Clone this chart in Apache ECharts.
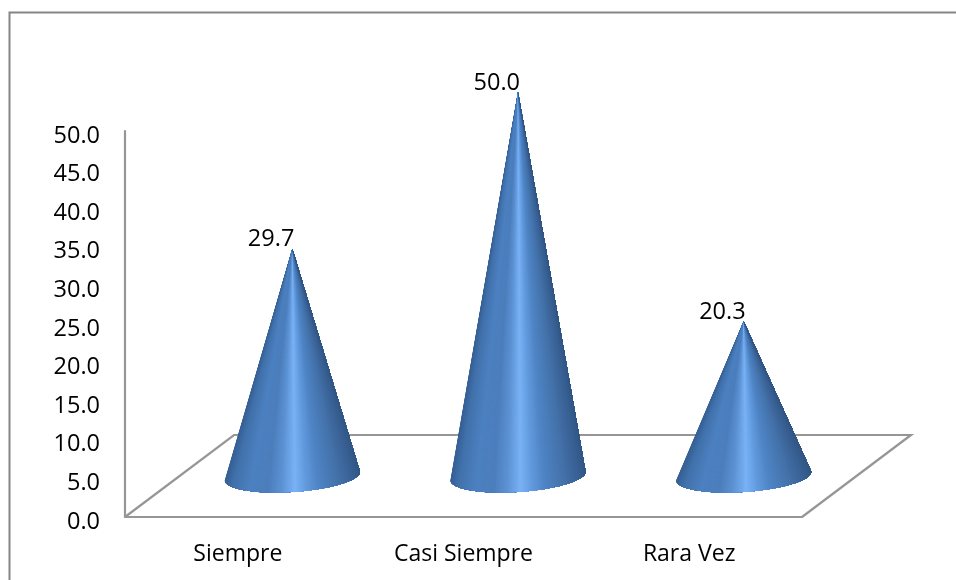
<!DOCTYPE html>
<html>
<head>
<meta charset="utf-8">
<style>html,body{margin:0;padding:0;background:#fff}#chart{width:956px;height:580px}</style>
<script src="https://cdn.jsdelivr.net/npm/echarts@6/dist/echarts.min.js"></script>
</head>
<body>
<div id="chart"></div>
<script>
const categories = ['Siempre', 'Casi Siempre', 'Rara Vez'];
const values = [29.7, 50.0, 20.3];
const yTicks = { min: 0, max: 50, interval: 5 };

const FONT = '"Open Sans", sans-serif';
const FRAME_GREY = '#858585';
const AXIS_GREY = '#969696';
// Oblique depth of the floor and where the cones stand on it
const DEPTH_X = 109, DEPTH_Y = 82;
const CONE_DX = 54.5, BASE_DY = 41, APEX_DY = 39;
const BASE_RX = 67.7, BASE_RY = 15.9, BASE_TILT = -0.0666;
const SLICES = 160;
// Surface shading from the left edge of a cone to its right edge
const SHADE = [
  [0.00, [54, 96, 148]], [0.06, [66, 114, 172]], [0.18, [76, 128, 192]],
  [0.32, [76, 126, 188]], [0.42, [92, 146, 212]], [0.52, [122, 178, 246]],
  [0.60, [98, 154, 222]], [0.70, [78, 132, 196]], [0.84, [68, 114, 170]],
  [0.94, [58, 98, 150]], [1.00, [50, 88, 134]]
];

function shadeAt(u) {
  for (let i = 1; i < SHADE.length; i++) {
    if (u <= SHADE[i][0]) {
      const a = SHADE[i - 1], b = SHADE[i];
      const k = (u - a[0]) / (b[0] - a[0]);
      const c = a[1].map((v, j) => Math.round(v + (b[1][j] - v) * k));
      return 'rgb(' + c.join(',') + ')';
    }
  }
  return 'rgb(' + SHADE[SHADE.length - 1][1].join(',') + ')';
}

function renderFloor(params, api) {
  const s = params.coordSys;
  const y0 = s.y + s.height;
  return {
    type: 'polyline',
    shape: {
      points: [
        [s.x, y0],
        [s.x + DEPTH_X, y0 - DEPTH_Y],
        [s.x + s.width + DEPTH_X, y0 - DEPTH_Y],
        [s.x + s.width, y0]
      ]
    },
    style: { stroke: AXIS_GREY, lineWidth: 2.2, fill: null }
  };
}

function renderCone(params, api) {
  const foot = api.coord([api.value(0), 0]);
  const top = api.coord([api.value(0), api.value(1)]);
  const cx = foot[0] + CONE_DX, cy = foot[1] - BASE_DY;
  const apex = [top[0] + CONE_DX, top[1] - APEX_DY];
  const cos = Math.cos(BASE_TILT), sin = Math.sin(BASE_TILT);
  const rim = t => {
    const ex = BASE_RX * Math.cos(t), ey = BASE_RY * Math.sin(t);
    return [cx + ex * cos - ey * sin, cy + ex * sin + ey * cos];
  };
  const children = [];
  // Each slice of the fan reaches right to the end of the rim and the next one
  // paints over it, so no hairline seams show between neighbours
  for (let i = 0; i < SLICES; i++) {
    const pts = [apex];
    for (let j = i; j <= SLICES; j += (j < i + 2 ? 1 : 4)) pts.push(rim(Math.PI * (1 - j / SLICES)));
    pts.push(rim(0));
    const a = rim(Math.PI * (1 - i / SLICES));
    const b = rim(Math.PI * (1 - (i + 1) / SLICES));
    const u = ((a[0] + b[0]) / 2 - (cx - BASE_RX)) / (2 * BASE_RX);
    children.push({
      type: 'polygon',
      shape: { points: pts },
      style: { fill: shadeAt(u) }
    });
  }
  children.push({
    type: 'text',
    style: {
      text: api.value(1).toFixed(1),
      x: apex[0] + 2, y: apex[1] - 9,
      align: 'right', verticalAlign: 'middle',
      font: '400 23.5px ' + FONT, fill: '#000'
    }
  });
  return { type: 'group', children };
}

const chart = echarts.init(document.getElementById('chart'), null, { renderer: 'canvas' });
chart.setOption({
  animation: false,
  backgroundColor: '#fff',
  graphic: [{
    type: 'polyline',
    silent: true,
    shape: { points: [[9.5, 580], [9.5, 12.5], [956, 12.5]] },
    style: { stroke: FRAME_GREY, lineWidth: 2, fill: null }
  }],
  grid: { left: 125, right: 154, top: 131, bottom: 63 },
  xAxis: {
    type: 'category',
    data: categories,
    axisLine: { show: true, lineStyle: { color: AXIS_GREY, width: 2.2 } },
    axisTick: { show: false },
    axisLabel: { color: '#000', fontFamily: FONT, fontSize: 23, margin: 26 }
  },
  yAxis: {
    type: 'value',
    min: yTicks.min, max: yTicks.max, interval: yTicks.interval,
    splitLine: { show: false },
    axisLine: { show: true, lineStyle: { color: AXIS_GREY, width: 2.2 } },
    axisTick: { show: false },
    axisLabel: {
      color: '#000', margin: 25,
      formatter: v => '{t|' + v.toFixed(1) + '}',
      rich: {
        // Tick numbers sit a little below their tick positions
        t: {
          color: '#000', fontFamily: FONT, fontSize: 23.5,
          lineHeight: 40, verticalAlign: 'top', padding: [13, 0, 0, 0]
        }
      }
    }
  },
  series: [
    { type: 'custom', renderItem: renderFloor, data: [0], z: 1, silent: true },
    {
      type: 'custom',
      renderItem: renderCone,
      data: values.map((v, i) => [i, v]),
      encode: { x: 0, y: 1 },
      z: 2
    }
  ]
});
</script>
</body>
</html>
